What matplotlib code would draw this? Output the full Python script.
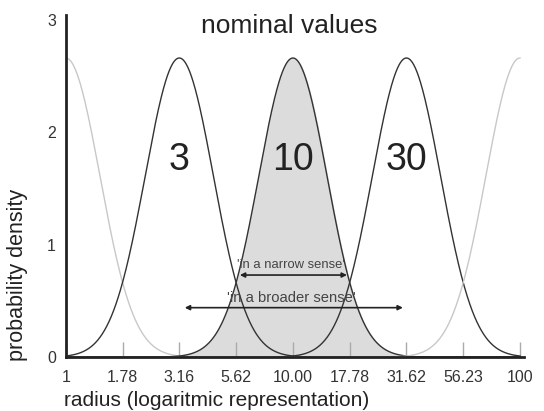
import numpy as np
import matplotlib.pyplot as plt

plt.rcParams['font.family'] = ['Liberation Sans', 'DejaVu Sans']

# nominal values (log-normal curves in log10 radius)
nominal_centers = [1.0, 3.16, 10.0, 31.62, 100.0]
nominal_labels = ['', '3', '10', '30', '']
curve_colors = ['#c8c8c8', '#333333', '#333333', '#333333', '#c8c8c8']
sigma_log = 0.15          # spread in decades
x_ticks = [1, 1.78, 3.16, 5.62, 10.00, 17.78, 31.62, 56.23, 100]
x_ticklabels = ['1', '1.78', '3.16', '5.62', '10.00', '17.78', '31.62', '56.23', '100']
y_ticks = [0, 1, 2, 3]

# range arrows (x from, x to, y, label, fontsize)
arrows = [
    (5.84, 17.3, 0.73, "'in a narrow sense'", 9.4),
    (3.34, 30.5, 0.44, "'in a broader sense'", 10.6),
]

fig = plt.figure(figsize=(5.44, 4.11), dpi=100)
ax = fig.add_axes([0.121, 0.131, 0.842, 0.832])

logx = np.linspace(0, 2, 800)
x = 10 ** logx
for c, lab, col in zip(nominal_centers, nominal_labels, curve_colors):
    y = np.exp(-(logx - np.log10(c)) ** 2 / (2 * sigma_log ** 2)) / (sigma_log * np.sqrt(2 * np.pi))
    if lab == '10':
        ax.fill_between(x, 0, y, color='#dcdcdc', zorder=1)
    ax.plot(x, y, color=col, lw=1.0, zorder=2)
    if lab:
        ax.text(c, 1.75, lab, fontsize=27, ha='center', va='center', color='#222222')

ax.text(9.6, 2.94, 'nominal values', fontsize=19, ha='center', va='center', color='#222222')

for x0, x1, yy, txt, fs in arrows:
    ax.annotate('', xy=(x0, yy), xytext=(x1, yy),
                arrowprops=dict(arrowstyle='<|-|>', color='#222222', lw=1.2,
                                mutation_scale=7, shrinkA=0, shrinkB=0), zorder=3)
    ax.text(np.sqrt(x0 * x1) * 0.98, yy + 0.09, txt, fontsize=fs, ha='center', va='center', color='#444444')

ax.set_xscale('log')
ax.set_xlim(1, 104)
ax.set_ylim(0, 3.04)
ax.set_xticks(x_ticks)
ax.set_xticklabels(x_ticklabels)
ax.minorticks_off()
ax.set_yticks(y_ticks)
ax.tick_params(axis='x', direction='in', length=11, width=1, color='#aaaaaa',
               labelsize=11.5, labelcolor='#333333', pad=9)
ax.tick_params(axis='y', length=0, labelsize=11.5, labelcolor='#333333', pad=7)

for s in ['top', 'right']:
    ax.spines[s].set_visible(False)
for s in ['left', 'bottom']:
    ax.spines[s].set_linewidth(2)
    ax.spines[s].set_color('#222222')

ax.set_xlabel('radius (logaritmic representation)', fontsize=15, color='#222222')
ax.set_ylabel('probability density', fontsize=15.5, color='#222222')
ax.xaxis.set_label_coords(0.33, -0.1)
ax.yaxis.set_label_coords(-0.083, 0.24)

fig.savefig('out.png', dpi=100)
